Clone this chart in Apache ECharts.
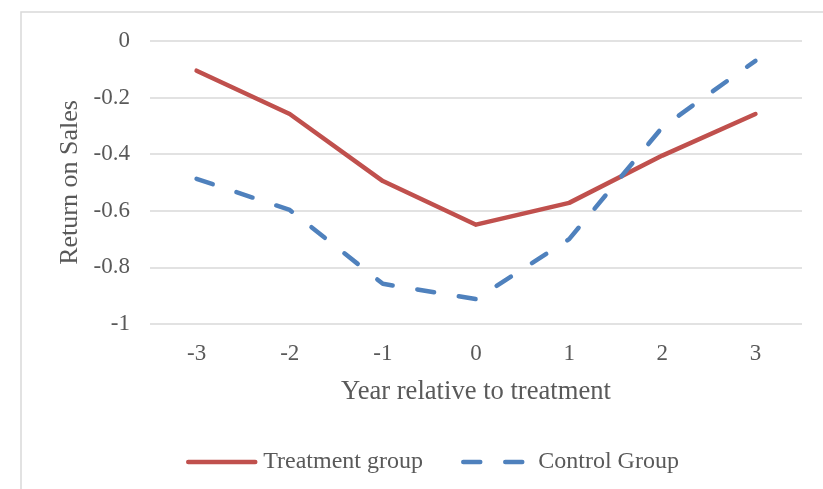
<!DOCTYPE html>
<html>
<head>
<meta charset="utf-8">
<script src="https://cdn.jsdelivr.net/npm/echarts@6/dist/echarts.min.js"></script>
<style>
  html, body { margin: 0; padding: 0; background: #fff; }
  #chart { width: 823px; height: 489px; }
</style>
</head>
<body>
<div id="chart"></div>
<script>
// Years relative to treatment and mean return on sales per group
var years = ['-3', '-2', '-1', '0', '1', '2', '3'];
var treatmentGroup = [-0.105, -0.258, -0.495, -0.649, -0.572, -0.405, -0.258];
var controlGroup = [-0.487, -0.597, -0.858, -0.912, -0.700, -0.305, -0.070];
var yTicks = [0, -0.2, -0.4, -0.6, -0.8, -1];

var font = '"Liberation Serif", "Times New Roman", serif';
var textColor = '#595959';

var chart = echarts.init(document.getElementById('chart'), null, { renderer: 'canvas' });
chart.setOption({
  animation: false,
  backgroundColor: '#ffffff',
  graphic: [{
    type: 'rect',
    shape: { x: 21, y: 12, width: 900, height: 600 },
    style: { fill: 'none', stroke: '#d9d9d9', lineWidth: 1.5 },
    silent: true
  }],
  grid: { left: 150, right: 21, top: 41, bottom: 165, containLabel: false },
  xAxis: {
    type: 'category',
    data: years,
    boundaryGap: true,
    name: 'Year relative to treatment',
    nameLocation: 'middle',
    nameGap: 55,
    nameTextStyle: { fontFamily: font, fontSize: 26.6, color: textColor },
    axisLine: { show: false },
    axisTick: { show: false },
    axisLabel: { fontFamily: font, fontSize: 23, color: textColor, margin: 18 },
    splitLine: { show: false }
  },
  yAxis: {
    type: 'value',
    min: -1,
    max: 0,
    interval: 0.2,
    name: 'Return on Sales',
    nameLocation: 'middle',
    nameGap: 63,
    nameRotate: 90,
    nameTextStyle: { fontFamily: font, fontSize: 26, color: textColor },
    axisLine: { show: false },
    axisTick: { show: false },
    axisLabel: {
      fontFamily: font, fontSize: 23, color: textColor, margin: 20,
      formatter: function (v) {
        var r = Math.round(v * 10) / 10;
        return yTicks.indexOf(r) >= 0 ? String(r) : '';
      }
    },
    splitLine: { show: true, lineStyle: { color: '#d9d9d9', width: 1.5 } }
  },
  legend: {
    top: 445,
    left: 181,
    itemWidth: 67,
    itemHeight: 14,
    itemGap: 38,
    itemStyle: { color: 'rgba(0,0,0,0)', borderWidth: 0 },
    lineStyle: { width: 4.5, cap: 'round' },
    textStyle: { fontFamily: font, fontSize: 24, color: textColor, padding: [0, 0, 0, 3] },
    data: ['Treatment group', 'Control Group']
  },
  series: [
    {
      name: 'Treatment group',
      type: 'line',
      data: treatmentGroup,
      symbol: 'none',
      lineStyle: { color: '#C0504D', width: 4.5, cap: 'round', join: 'round' },
      itemStyle: { color: '#C0504D' }
    },
    {
      name: 'Control Group',
      type: 'line',
      data: controlGroup,
      symbol: 'none',
      lineStyle: { color: '#4F81BD', width: 4.5, type: [17, 25], cap: 'round', join: 'round' },
      itemStyle: { color: '#4F81BD' }
    }
  ]
});
</script>
</body>
</html>
